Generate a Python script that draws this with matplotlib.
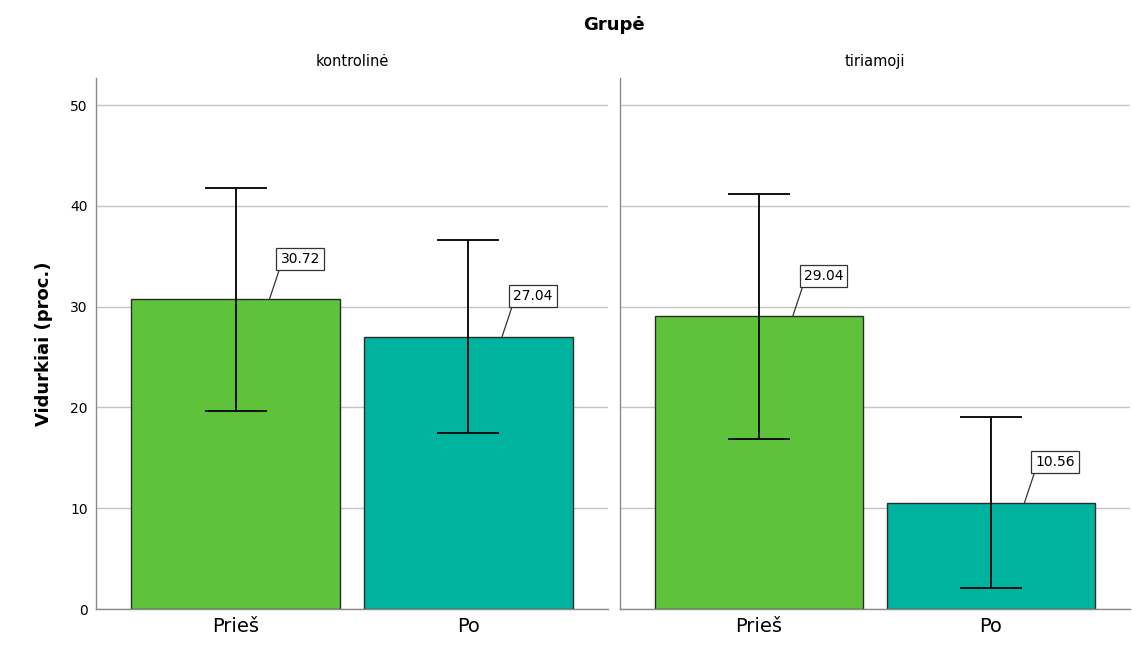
import matplotlib.pyplot as plt

# group means with error bar half-widths
groups = ["kontrolinė", "tiriamoji"]
periods = ["Prieš", "Po"]
means = {"kontrolinė": [30.72, 27.04], "tiriamoji": [29.04, 10.56]}
errors = {"kontrolinė": [11.05, 9.6], "tiriamoji": [12.15, 8.48]}
colors = ["#5ec23a", "#00b39e"]

fig = plt.figure(figsize=(11.32, 6.54), dpi=100)
fig.text(0.542, 0.962, "Grupė", ha="center", va="center", fontsize=13, fontweight="bold")

axes_pos = [[0.0848, 0.0688, 0.4523, 0.8119], [0.5477, 0.0688, 0.4505, 0.8119]]

for i, (grp, pos) in enumerate(zip(groups, axes_pos)):
    ax = fig.add_axes(pos)
    x = range(len(periods))
    ax.bar(x, means[grp], width=0.9, color=colors, edgecolor="#2b2b2b", linewidth=1.0, zorder=2)
    ax.errorbar(x, means[grp], yerr=errors[grp], fmt="none", ecolor="#111111",
                elinewidth=1.4, capsize=22, capthick=1.4, zorder=3)

    # value labels with a leader line from the bar top
    for xi, val in zip(x, means[grp]):
        ax.annotate(f"{val:.2f}", xy=(xi + 0.145, val), xytext=(8, 24),
                    textcoords="offset points", fontsize=10, ha="left", va="bottom",
                    bbox=dict(boxstyle="square,pad=0.3", fc="white", ec="#333333", lw=0.9),
                    arrowprops=dict(arrowstyle="-", color="#333333", lw=0.9,
                                    shrinkA=0, shrinkB=0, relpos=(0.0, 0.0)), zorder=4)

    ax.set_xlim(-0.6, 1.6)
    ax.set_ylim(0, 52.7)
    ax.set_yticks([0, 10, 20, 30, 40, 50])
    ax.set_xticks(list(x))
    ax.set_xticklabels(periods, fontsize=14)
    ax.yaxis.grid(True, color="#c4c4c4", linewidth=1.0, zorder=0)
    ax.set_axisbelow(True)
    ax.tick_params(axis="both", length=0, pad=6)
    ax.tick_params(axis="y", labelsize=10)
    for side in ["top", "right"]:
        ax.spines[side].set_visible(False)
    for side in ["left", "bottom"]:
        ax.spines[side].set_color("#8a8a8a")
        ax.spines[side].set_linewidth(1.0)
    ax.set_title(grp, fontsize=10.5, pad=9)
    if i == 0:
        ax.set_ylabel("Vidurkiai (proc.)", fontsize=13, fontweight="bold", labelpad=12)
    else:
        ax.set_yticklabels([])

fig.savefig("out.png", dpi=100)
